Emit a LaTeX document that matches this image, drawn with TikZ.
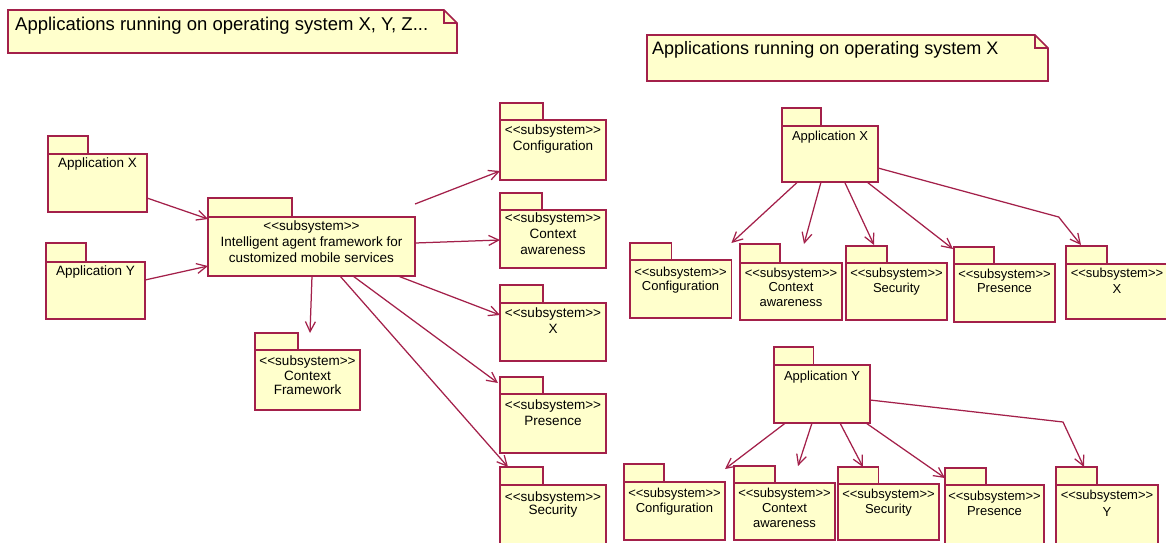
\documentclass[tikz,border=0pt]{standalone}
\usepackage{fontspec}
\setmainfont{Liberation Sans}
\usetikzlibrary{arrows.meta}
\definecolor{umlred}{RGB}{163,32,74}
\definecolor{umlfill}{RGB}{255,255,204}
\tikzset{
  pkgbody/.style={rectangle, draw=umlred, fill=umlfill, line width=1.6pt,
    inner sep=0pt, outer sep=0pt, font=\fontsize{13.5}{16}\selectfont},
  pkgtab/.style={draw=umlred, fill=umlfill, line width=1.6pt},
  dep/.style={draw=umlred, line width=1.25pt,
    -{Straight Barb[length=10pt,width=10pt,line width=1.25pt]}},
  notebox/.style={draw=umlred, fill=umlfill, line width=1.6pt},
  notefold/.style={draw=umlred, line width=1.1pt},
  notetext/.style={inner sep=0pt, anchor=base west},
}
% stereotype text, kerns keep the angle brackets from merging into guillemets
\newcommand\subsys{<\kern0pt<subsystem>\kern0pt>}
% \pkg{name}{left}{tab top}{tab right}{body top}{right}{bottom}{gap above text}{text}
\newcommand\pkg[9]{%
  \pgfmathsetmacro\pkgw{#6-#2}%
  \pgfmathsetmacro\pkgh{#7-#5}%
  \pgfmathsetmacro\tabw{#4-#2}%
  \pgfmathsetmacro\tabh{#5-#3}%
  \node[pkgbody, anchor=north west] (#1) at (#2,#5)
    {\parbox[t][\pkgh pt][t]{\pkgw pt}{\centering\vspace*{#8pt}#9\par}};
  \draw[pkgtab] (#1.north west) rectangle ++(\tabw,-\tabh);
}
\begin{document}
\begin{tikzpicture}[x=1pt, y=-1pt]
\useasboundingbox (0,0) rectangle (1166,542);
\clip (0,0) rectangle (1166,542);

% ---------- left: shared agent framework ----------
\draw[notebox] (8,10) -- (444,10) -- (457,23) -- (457,53) -- (8,53) -- cycle;
\draw[notefold] (444,10) -- (444,23) -- (457,23);
\node[notetext, font=\fontsize{18.5}{22}\selectfont] (noteL) at (15,30)
  {Applications running on operating system X, Y, Z...};

\pkg{appx}{48}{136}{88}{154}{147}{212}{3.3}{Application X}
\pkg{appy}{46}{243}{86}{262}{145}{319}{3.3}{Application Y}
\pkg{iaf}{208}{198}{292}{217}{415}{276}{3.3}{\subsys\\Intelligent agent framework for\\customized mobile services}
\pkg{ctxfw}{255}{333}{298}{350}{360}{410}{5.3}{\subsys\\[-1pt]Context\\[-2pt]Framework}
\pkg{cfg}{500}{103}{543}{120}{606}{180}{4.3}{\subsys\\Configuration}
\pkg{ctxaw}{500}{193}{542}{210}{606}{268}{2.3}{\subsys\\Context\\awareness}
\pkg{subx}{500}{285}{543}{303}{606}{361}{4.3}{\subsys\\X}
\pkg{pres}{500}{377}{543}{394}{606}{453}{5.3}{\subsys\\Presence}
\pkg{sec}{500}{467}{543}{485}{606}{560}{6.3}{\subsys\\[-3pt]Security}

\draw[dep] ([yshift=14pt]appx.south east) -- ([yshift=-2pt]iaf.north west);
\draw[dep] ([yshift=-18pt]appy.north east) -- ([yshift=10pt]iaf.south west);
\draw[dep] ([xshift=104pt]iaf.south west) -- ([xshift=55pt,yshift=17pt]ctxfw.north west);
\draw[dep] ([yshift=13pt]iaf.north east) -- ([yshift=9pt]cfg.south west);
\draw[dep] ([yshift=-26pt]iaf.north east) -- ([yshift=-30pt]ctxaw.north west);
\draw[dep] ([xshift=-17pt]iaf.south east) -- ([yshift=-12pt]subx.north west);
\draw[dep] ([xshift=145pt]iaf.south west) -- ([xshift=-2pt,yshift=11pt]pres.north west);
\draw[dep] ([xshift=132pt]iaf.south west) -- ([xshift=8pt,yshift=18pt]sec.north west);

% ---------- right: one framework per application ----------
\draw[notebox] (647,35) -- (1035,35) -- (1048,48) -- (1048,81) -- (647,81) -- cycle;
\draw[notefold] (1035,35) -- (1035,48) -- (1048,48);
\node[notetext, font=\fontsize{18}{22}\selectfont] (noteR) at (652,54)
  {Applications running on operating system X};

\begin{scope}[pkgbody/.append style={font=\fontsize{13}{15}\selectfont}]
\pkg{rappx}{782}{108}{821}{126}{878}{182}{4.6}{Application X}
\pkg{rcfg}{629.7}{243}{671.5}{260}{731.4}{318}{6.6}{\subsys\\[-1pt]Configuration}
\pkg{rctx}{740}{244}{780}{263}{842}{320}{4.6}{\subsys\\[-1pt]Context\\awareness}
\pkg{rsec}{846}{246}{887}{263}{947}{320}{4.6}{\subsys\\Security}
\pkg{rpres}{954}{247}{994}{264}{1055}{322}{4.6}{\subsys\\[-1pt]Presence}
\pkg{rx}{1066}{246}{1107}{264}{1168}{319}{3.6}{\subsys\\[1pt]X}

\pkg{rappy}{774}{347}{813.5}{365}{870}{423}{5.6}{Application Y}
\pkg{ycfg}{624}{464}{664}{482}{725}{540}{5.6}{\subsys\\Configuration}
\pkg{yctx}{734}{466}{775}{483}{835}{540}{4.6}{\subsys\\Context\\awareness}
\pkg{ysec}{838}{467}{878.5}{484}{939}{540}{4.6}{\subsys\\Security}
\pkg{ypres}{945}{468}{986}{485}{1044}{560}{5.6}{\subsys\\Presence}
\pkg{yy}{1056}{467}{1097}{485}{1158}{560}{4.6}{\subsys\\[2pt]Y}
\end{scope}

\coordinate (bendx) at (1058.7,217);
\coordinate (bendy) at (1063,422);

\draw[dep] ([xshift=15.6pt]rappx.south west) -- ([yshift=17pt]rcfg.north east);
\draw[dep] ([xshift=39pt]rappx.south west) -- ([xshift=64pt,yshift=19pt]rctx.north west);
\draw[dep] ([xshift=62.6pt]rappx.south west) -- ([xshift=28pt,yshift=18pt]rsec.north west);
\draw[dep] ([xshift=85pt]rappx.south west) -- ([xshift=-1pt,yshift=15pt]rpres.north west);
\draw[dep] ([yshift=14pt]rappx.south east) -- (bendx) -- ([xshift=15pt,yshift=19pt]rx.north west);

\draw[dep] ([xshift=11.4pt]rappy.south west) -- ([yshift=13pt]ycfg.north east);
\draw[dep] ([xshift=38pt]rappy.south west) -- ([xshift=64pt,yshift=17pt]yctx.north west);
\draw[dep] ([xshift=66pt]rappy.south west) -- ([xshift=25pt,yshift=17pt]ysec.north west);
\draw[dep] ([xshift=92pt]rappy.south west) -- ([yshift=7pt]ypres.north west);
\draw[dep] ([yshift=23pt]rappy.south east) -- (bendy) -- ([xshift=28pt,yshift=18pt]yy.north west);
\end{tikzpicture}
\end{document}
